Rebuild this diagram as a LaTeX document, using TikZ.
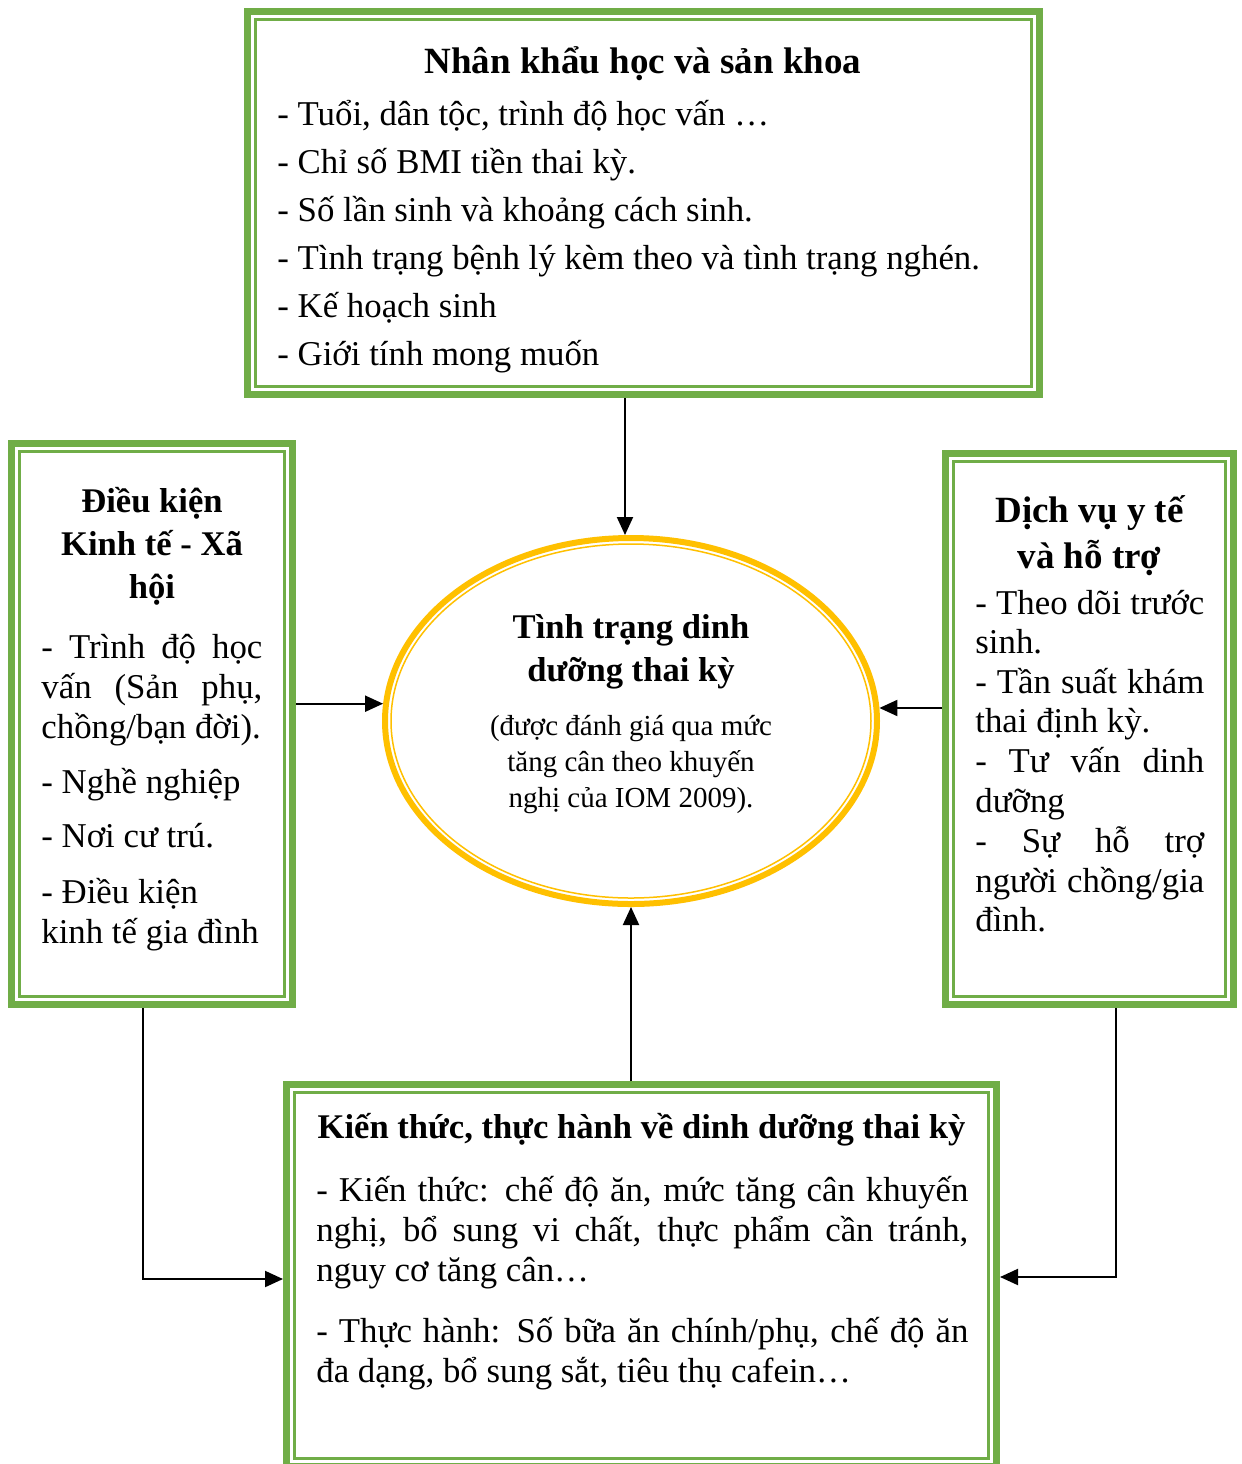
\documentclass[tikz,border=0pt]{standalone}
\usepackage{fontspec}
\setmainfont{Liberation Serif}
\usetikzlibrary{shapes.geometric,arrows.meta}
\definecolor{gr}{HTML}{70AD47}
\definecolor{yl}{HTML}{FFC000}
\begin{document}
\begin{tikzpicture}[x=0.5pt,y=-0.5pt,
  gbox/.style={draw=gr,line width=3.5pt,rectangle,inner sep=0pt,fill=white},
  gin/.style={draw=gr,line width=1.25pt},
  arr/.style={-{Triangle[length=9pt,width=8pt]},line width=1pt},
  body/.style={anchor=base west,inner sep=0pt,font=\fontsize{17.4}{20}\selectfont},
  ttl/.style={anchor=base,inner sep=0pt,font=\fontsize{17.3}{20}\selectfont\bfseries},
  bigttl/.style={ttl,font=\fontsize{18.5}{20}\selectfont\bfseries},
  sub/.style={anchor=base,inner sep=0pt,font=\fontsize{14.5}{17}\selectfont}]
\useasboundingbox (0,0) rectangle (1242,1464);
\fill[white] (0,0) rectangle (1242,1464);
% boxes
\node[gbox,minimum width=396pt,minimum height=191.5pt] (T) at (643.5,203) {};
\node[gbox,minimum width=140.5pt,minimum height=280.5pt] (L) at (152,724) {};
\node[gbox,minimum width=144pt,minimum height=275.5pt] (R) at (1089.5,729) {};
\node[gbox,minimum width=355pt,minimum height=191pt] (B) at (641.5,1275.5) {};
\foreach \b in {T,L,R,B}
  \draw[gin] ([shift={(11.5,11.5)}]\b.north west) rectangle ([shift={(-11.5,-11.5)}]\b.south east);
% ellipse
\node[draw=yl,line width=3pt,ellipse,minimum width=246pt,minimum height=183pt,inner sep=0pt] (E) at (631,721) {};
\draw[yl,line width=0.75pt] (E.center) ellipse [x radius=120pt, y radius=88.5pt];
% connectors
\coordinate (ta) at ([xshift=-3pt]E.north);
\draw[arr] (ta |- T.south) -- (ta);
\draw[arr] (B.north -| E.south) -- (E.south);
\draw[arr] (E.176.3 -| L.east) -- (E.176.3);
\draw[arr] (E.3.7 -| R.west) -- (E.3.7);
\coordinate (la) at ([xshift=-4.5pt]L.south);
\coordinate (lb) at ([yshift=-1.75pt]B.west);
\draw[arr] (la) |- (lb);
\coordinate (ra) at ([xshift=13.25pt]R.south);
\coordinate (rb) at ([yshift=-0.75pt]B.east);
\draw[arr] (ra) |- (rb);
% top box text
\node[bigttl] (t0) at (643,73) {Nhân khẩu học và sản khoa};
\node[body] (t1) at (277,125) {- Tuổi, dân tộc, trình độ học vấn …};
\node[body] (t2) at (277,173) {- Chỉ số BMI tiền thai kỳ.};
\node[body] (t3) at (277,221) {- Số lần sinh và khoảng cách sinh.};
\node[body] (t4) at (277,269) {- Tình trạng bệnh lý kèm theo và tình trạng nghén.};
\node[body] (t5) at (277,317) {- Kế hoạch sinh};
\node[body] (t6) at (277,365) {- Giới tính mong muốn};
% left box text
\node[ttl] (l0) at (152,512) {Điều kiện};
\node[ttl] (l1) at (152,555) {Kinh tế - Xã};
\node[ttl] (l2) at (152,598) {hội};
\node[body] (l3) at (41,658) {\makebox[110.5pt][s]{- Trình độ học}};
\node[body] (l4) at (41,698) {\makebox[110.5pt][s]{vấn (Sản phụ,}};
\node[body] (l5) at (41,738) {chồng/bạn đời).};
\node[body] (l6) at (41,793) {- Nghề nghiệp};
\node[body] (l7) at (41,847) {- Nơi cư trú.};
\node[body] (l8) at (41,903) {- Điều kiện};
\node[body] (l9) at (41,943) {kinh tế gia đình};
% right box text
\node[bigttl] (r0) at (1089.5,522) {Dịch vụ y tế};
\node[bigttl] (r1) at (1089.5,568) {và hỗ trợ};
\node[body] (r2) at (975,614) {\makebox[114.5pt][s]{- Theo dõi trước}};
\node[body] (r3) at (975,653) {sinh.};
\node[body] (r4) at (975,693) {\makebox[114.5pt][s]{- Tần suất khám}};
\node[body] (r5) at (975,732) {thai định kỳ.};
\node[body] (r6) at (975,772) {\makebox[114.5pt][s]{- Tư vấn dinh}};
\node[body] (r7) at (975,812) {dưỡng};
\node[body] (r8) at (975,852) {\makebox[114.5pt][s]{- Sự hỗ trợ}};
\node[body] (r9) at (975,892) {\makebox[114.5pt][s]{người chồng/gia}};
\node[body] (r10) at (975,931) {đình.};
% ellipse text
\node[ttl] (e0) at (631,638) {Tình trạng dinh};
\node[ttl] (e1) at (631,681) {dưỡng thai kỳ};
\node[sub] (e2) at (631,735) {(được đánh giá qua mức};
\node[sub] (e3) at (631,771) {tăng cân theo khuyến};
\node[sub] (e4) at (631,807) {nghị của IOM 2009).};
% bottom box text
\node[ttl] (b0) at (641.5,1138) {Kiến thức, thực hành về dinh dưỡng thai kỳ};
\node[body] (b1) at (316,1201) {\makebox[326pt][s]{- Kiến thức: chế độ ăn, mức tăng cân khuyến}};
\node[body] (b2) at (316,1241) {\makebox[326pt][s]{nghị, bổ sung vi chất, thực phẩm cần tránh,}};
\node[body] (b3) at (316,1281) {nguy cơ tăng cân…};
\node[body] (b4) at (316,1342) {\makebox[326pt][s]{- Thực hành: Số bữa ăn chính/phụ, chế độ ăn}};
\node[body] (b5) at (316,1382) {đa dạng, bổ sung sắt, tiêu thụ cafein…};
\end{tikzpicture}
\end{document}
